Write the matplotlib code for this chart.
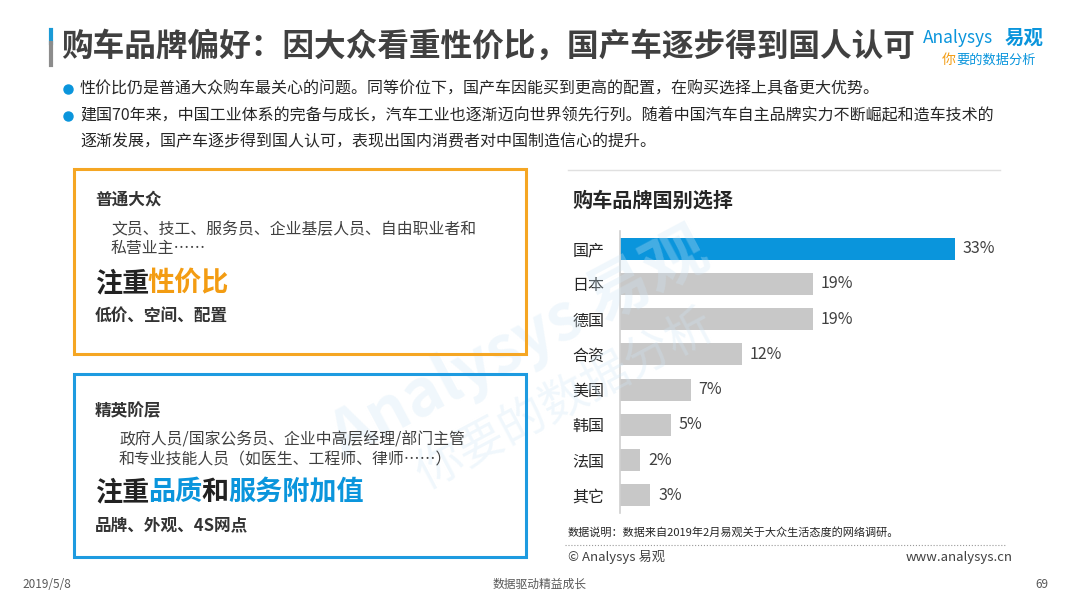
import matplotlib
matplotlib.use("Agg")
import matplotlib.pyplot as plt
from matplotlib.patches import Rectangle
from matplotlib.lines import Line2D

plt.rcParams['font.family'] = ['Noto Sans CJK SC', 'DejaVu Sans']

# chart data
countries = ['国产', '日本', '德国', '合资', '美国', '韩国', '法国', '其它']
shares = [33, 19, 19, 12, 7, 5, 2, 3]
value_labels = ['33%', '19%', '19%', '12%', '7%', '5%', '2%', '3%']

title = '购车品牌偏好：因大众看重性价比，国产车逐步得到国人认可'
bullets = [
    '性价比仍是普通大众购车最关心的问题。同等价位下，国产车因能买到更高的配置，在购买选择上具备更大优势。',
    '建国70年来，中国工业体系的完备与成长，汽车工业也逐渐迈向世界领先行列。随着中国汽车自主品牌实力不断崛起和造车技术的',
    '逐渐发展，国产车逐步得到国人认可，表现出国内消费者对中国制造信心的提升。',
]

W, H = 1080, 607
BLUE = '#0a95dc'
ORANGE = '#f39c12'
DARK = '#333333'
GREY_TXT = '#595959'

fig = plt.figure(figsize=(W / 100, H / 100), dpi=100)
fig.patch.set_facecolor('white')


def fx(x):
    return x / W


def fy(y):
    return 1 - y / H


def txt(x, y, s, size, color=DARK, weight='normal', ha='left', va='center', **kw):
    return fig.text(fx(x), fy(y), s, fontsize=size, color=color, fontweight=weight,
                    ha=ha, va=va, **kw)


def hline(x0, x1, y, color, lw=1, ls='-'):
    fig.add_artist(Line2D([fx(x0), fx(x1)], [fy(y), fy(y)], color=color, lw=lw, ls=ls,
                          transform=fig.transFigure))


def vline(x, y0, y1, color, lw=1):
    fig.add_artist(Line2D([fx(x), fx(x)], [fy(y0), fy(y1)], color=color, lw=lw,
                          transform=fig.transFigure))


# watermark
fig.text(fx(520), fy(345), 'Analysys 易观', fontsize=46, color='#cfe6f5', fontweight='bold',
         fontstyle='italic', rotation=28, ha='center', va='center', alpha=0.3, zorder=0)
fig.text(fx(565), fy(400), '你要的数据分析', fontsize=34, color='#cfe6f5',
         rotation=28, ha='center', va='center', alpha=0.3, zorder=0)

# title bar
vline(51, 30, 43, '#1a9ad6', lw=3)
vline(51, 43, 65, '#8c8c8c', lw=3)
txt(61, 47, title, 22.8, color='#404040', weight='bold')

# logo
txt(923, 38, 'Analysys', 12.5, color=BLUE, fontstyle='italic')
txt(1005, 38, '易观', 14, color=BLUE, weight='bold')
txt(942, 60, '你', 10, color=ORANGE, fontstyle='italic')
txt(956, 60, '要的数据分析', 9.5, color=BLUE, fontstyle='italic')

# bullets
for (by, s) in [(89, bullets[0]), (116, bullets[1])]:
    fig.add_artist(Line2D([fx(68)], [fy(by)], marker='o', markersize=6.5, color=BLUE,
                          ls='none', transform=fig.transFigure))
    txt(80, by, s, 11.5, color='#262626')
txt(80, 142, bullets[2], 11.5, color='#262626')

# orange box
fig.add_artist(Rectangle((fx(74), fy(354)), fx(526 - 74), (354 - 169) / H, fill=False,
                         edgecolor='#f5a623', lw=2.2, transform=fig.transFigure))
txt(95, 200, '普通大众', 12, weight='bold')
txt(111, 230, '文员、技工、服务员、企业基层人员、自由职业者和', 11.4, color='#404040')
txt(111, 249, '私营业主……', 11.4, color='#404040')
txt(95, 283, '注重', 19.5, color='#222222', weight='bold')
txt(148, 283, '性价比', 19.5, color=ORANGE, weight='bold')
txt(95, 316, '低价、空间、配置', 12, weight='bold')

# blue box
fig.add_artist(Rectangle((fx(74), fy(557)), fx(526 - 74), (557 - 374) / H, fill=False,
                         edgecolor='#1e9be0', lw=2.2, transform=fig.transFigure))
txt(95, 411, '精英阶层', 12, weight='bold')
txt(119, 440, '政府人员/国家公务员、企业中高层经理/部门主管', 11.4, color='#404040')
txt(119, 460, '和专业技能人员（如医生、工程师、律师……）', 11.4, color='#404040')
txt(95, 492, '注重', 19.5, color='#222222', weight='bold')
txt(148, 492, '品质', 19.5, color=BLUE, weight='bold')
txt(201, 492, '和', 19.5, color='#222222', weight='bold')
txt(228, 492, '服务附加值', 19.5, color=BLUE, weight='bold')
txt(95, 525, '品牌、外观、4S网点', 12, weight='bold')

# right chart
hline(568, 1000, 170, '#e0e0e0', lw=1)
txt(572, 200, '购车品牌国别选择', 14.5, color='#262626', weight='bold')

ax = fig.add_axes([fx(620), fy(513), fx(1000 - 620), (513 - 231) / H])
colors = [BLUE] + ['#c8c8c8'] * (len(shares) - 1)
ypos = list(range(len(countries)))
ax.barh(ypos, shares, height=0.63, color=colors)
for yv, v, lab in zip(ypos, shares, value_labels):
    ax.text(v + 0.75, yv, lab, fontsize=11.5, color='#404040', va='center', ha='left')
ax.set_xlim(0, 37.4)
ax.set_ylim(len(countries) - 0.5, -0.5)
ax.set_yticks(ypos)
ax.set_yticklabels(countries, fontsize=11.5, color='#262626')
ax.set_xticks([])
ax.tick_params(axis='y', length=0, pad=11)
for sp in ['top', 'right', 'bottom']:
    ax.spines[sp].set_visible(False)
ax.spines['left'].set_color('#d0d0d0')
ax.spines['left'].set_linewidth(1.2)
ax.patch.set_alpha(0)

txt(568, 532, '数据说明：数据来自2019年2月易观关于大众生活态度的网络调研。', 8, color='#262626')
hline(565, 1005, 545, '#9a9a9a', lw=0.8, ls=':')
txt(568, 557, '© Analysys 易观', 9.5, color='#404040')
txt(1013, 557, 'www.analysys.cn', 9.5, color='#404040', ha='right')

# footer
txt(22, 584, '2019/5/8', 8.5, color=GREY_TXT)
txt(540, 584, '数据驱动精益成长', 8.5, color=GREY_TXT, ha='center')
txt(1048, 584, '69', 8.5, color=GREY_TXT, ha='right')

fig.savefig('out.png', dpi=100, facecolor='white')
